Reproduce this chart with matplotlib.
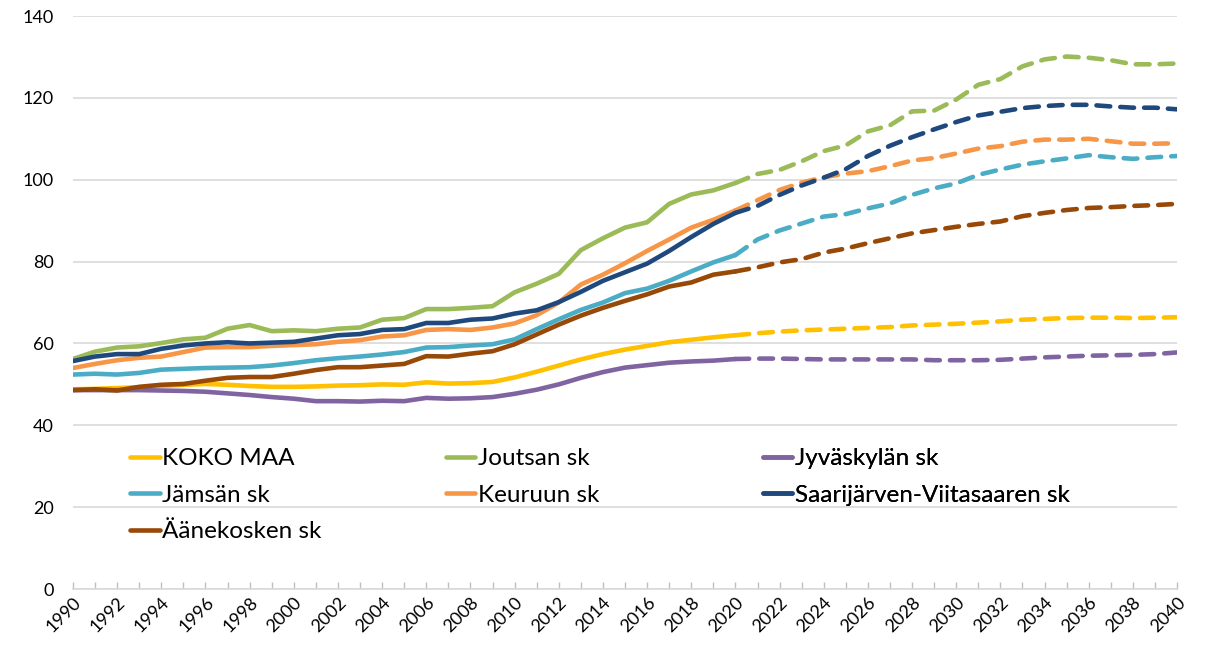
import numpy as np
import matplotlib
matplotlib.use("Agg")
import matplotlib.pyplot as plt
from matplotlib.lines import Line2D

plt.rcParams['font.family'] = ['Lato', 'DejaVu Sans']

years = list(range(1990, 2041))
last_actual = 2020

koko_maa = [48.8, 48.9, 49.1, 49.3, 49.6, 49.9, 50.1, 49.9, 49.6, 49.4, 49.4, 49.5, 49.7, 49.8, 50.0, 49.9,
            50.5, 50.2, 50.3, 50.6, 51.7, 53.1, 54.6, 56.1, 57.4, 58.5, 59.4, 60.3, 60.9, 61.5, 62.0,
            62.5, 62.9, 63.2, 63.4, 63.6, 63.8, 64.0, 64.4, 64.6, 64.8, 65.1, 65.4, 65.8, 66.0, 66.2,
            66.3, 66.3, 66.2, 66.3, 66.4]
joutsa = [56.2, 58.0, 59.0, 59.3, 60.1, 61.0, 61.4, 63.6, 64.5, 63.0, 63.2, 63.0, 63.6, 63.9, 65.8, 66.2,
          68.4, 68.4, 68.7, 69.1, 72.5, 74.6, 77.0, 82.8, 85.7, 88.3, 89.6, 94.1, 96.4, 97.4, 99.2,
          101.4, 102.4, 104.5, 107.0, 108.4, 111.8, 113.3, 116.7, 116.9, 119.6, 123.2, 124.6, 127.7, 129.4, 130.1,
          129.8, 129.2, 128.2, 128.2, 128.4]
jyvaskyla = [48.6, 48.6, 48.6, 48.6, 48.5, 48.4, 48.2, 47.8, 47.4, 46.9, 46.5, 45.9, 45.9, 45.8, 46.0, 45.9,
             46.7, 46.5, 46.6, 46.9, 47.7, 48.7, 50.0, 51.6, 53.0, 54.1, 54.7, 55.3, 55.6, 55.8, 56.2,
             56.3, 56.3, 56.2, 56.1, 56.1, 56.1, 56.1, 56.1, 55.9, 55.9, 55.9, 56.0, 56.3, 56.6, 56.8,
             57.0, 57.1, 57.2, 57.4, 57.8]
jamsa = [52.4, 52.6, 52.4, 52.8, 53.6, 53.8, 54.0, 54.1, 54.2, 54.6, 55.2, 55.9, 56.4, 56.8, 57.3, 57.9,
         59.0, 59.1, 59.5, 59.8, 61.0, 63.5, 65.9, 68.2, 70.0, 72.3, 73.4, 75.3, 77.6, 79.8, 81.6,
         85.4, 87.6, 89.3, 91.0, 91.6, 93.0, 94.2, 96.3, 97.9, 99.1, 101.2, 102.5, 103.7, 104.5, 105.2,
         106.0, 105.5, 105.1, 105.5, 105.8]
keuruu = [54.0, 55.0, 55.9, 56.5, 56.8, 57.9, 59.0, 59.1, 59.1, 59.4, 59.6, 59.8, 60.4, 60.8, 61.7, 62.0,
          63.3, 63.5, 63.3, 63.9, 64.9, 66.9, 70.0, 74.4, 76.8, 79.6, 82.6, 85.4, 88.3, 90.2, 92.5,
          95.0, 97.5, 99.3, 100.6, 101.5, 102.1, 103.3, 104.7, 105.3, 106.4, 107.6, 108.2, 109.3, 109.8, 109.8,
          110.0, 109.4, 108.8, 108.8, 108.9]
saarijarvi = [55.7, 56.8, 57.4, 57.4, 58.7, 59.5, 60.0, 60.3, 60.0, 60.2, 60.4, 61.2, 62.0, 62.3, 63.3, 63.5,
              65.0, 65.0, 65.8, 66.1, 67.3, 68.1, 70.1, 72.6, 75.3, 77.4, 79.5, 82.6, 86.0, 89.2, 91.9,
              93.6, 96.3, 98.6, 100.5, 102.6, 105.8, 108.3, 110.4, 112.3, 114.1, 115.7, 116.6, 117.5, 118.0, 118.3,
              118.3, 117.9, 117.6, 117.6, 117.2]
aanekoski = [48.6, 48.8, 48.5, 49.4, 49.9, 50.1, 50.9, 51.6, 51.8, 51.8, 52.6, 53.5, 54.2, 54.2, 54.6, 55.0,
             56.9, 56.8, 57.5, 58.1, 59.8, 62.2, 64.6, 66.8, 68.7, 70.4, 72.0, 73.9, 74.9, 76.8, 77.6,
             78.6, 79.8, 80.6, 82.2, 83.2, 84.5, 85.7, 86.9, 87.7, 88.5, 89.2, 89.8, 91.1, 91.9, 92.6,
             93.1, 93.3, 93.6, 93.8, 94.1]

names = ["KOKO MAA", "Joutsan sk", "Jyväskylän sk", "Jämsän sk", "Keuruun sk",
         "Saarijärven-Viitasaaren sk", "Äänekosken sk"]
series = [koko_maa, joutsa, jyvaskyla, jamsa, keuruu, saarijarvi, aanekoski]
colors = ["#FFC000", "#9BBB59", "#8064A2", "#4BACC6", "#F79646", "#1F497D", "#984807"]

fig = plt.figure(figsize=(12.06, 6.48), dpi=100)
ax = fig.add_axes([0.0605, 0.0910, 0.9155, 0.8843])

x = np.array(years)
cut = years.index(last_actual)
lw = 3.3
for vals, c in zip(series, colors):
    v = np.array(vals)
    ax.plot(x[:cut + 1], v[:cut + 1], color=c, lw=lw, solid_capstyle='round', solid_joinstyle='round')
    ax.plot(x[cut:], v[cut:], color=c, lw=lw, dashes=(3.0, 2.2), dash_capstyle='round',
            dash_joinstyle='round')

ax.set_xlim(1990, 2040)
ax.set_ylim(0, 140)
ax.set_yticks(range(0, 141, 20))
ax.set_xticks(range(1990, 2041, 2))
ax.set_xticks(years, minor=True)
ax.grid(axis='y', color='#D9D9D9', lw=1.2)
ax.set_axisbelow(True)
for s in ['top', 'right', 'left']:
    ax.spines[s].set_visible(False)
ax.spines['bottom'].set_color('#D9D9D9')
ax.spines['bottom'].set_linewidth(1.2)
ax.tick_params(axis='y', length=0, pad=14, labelsize=13)
ax.tick_params(axis='x', which='both', direction='in', length=5, color='#BFBFBF', width=1)
ax.tick_params(axis='x', which='major', labelsize=13, pad=4)
for lab in ax.get_xticklabels():
    lab.set_rotation(45)
    lab.set_ha('right')
    lab.set_va('top')
    lab.set_rotation_mode('anchor')

handles = [Line2D([], [], color=c, lw=lw, solid_capstyle='round') for c in colors]
cols = [[0, 3, 6], [1, 4], [2, 5]]
anchors = [0.052, 0.338, 0.625]
for idx, xa in zip(cols, anchors):
    leg = ax.legend([handles[i] for i in idx], [names[i] for i in idx], loc='upper left',
                    bbox_to_anchor=(xa, 0.246), frameon=False, fontsize=17.5, handlelength=1.2,
                    handletextpad=0.12, labelspacing=0.64, borderpad=0, borderaxespad=0)
    ax.add_artist(leg)

fig.savefig("out.png", dpi=100)
